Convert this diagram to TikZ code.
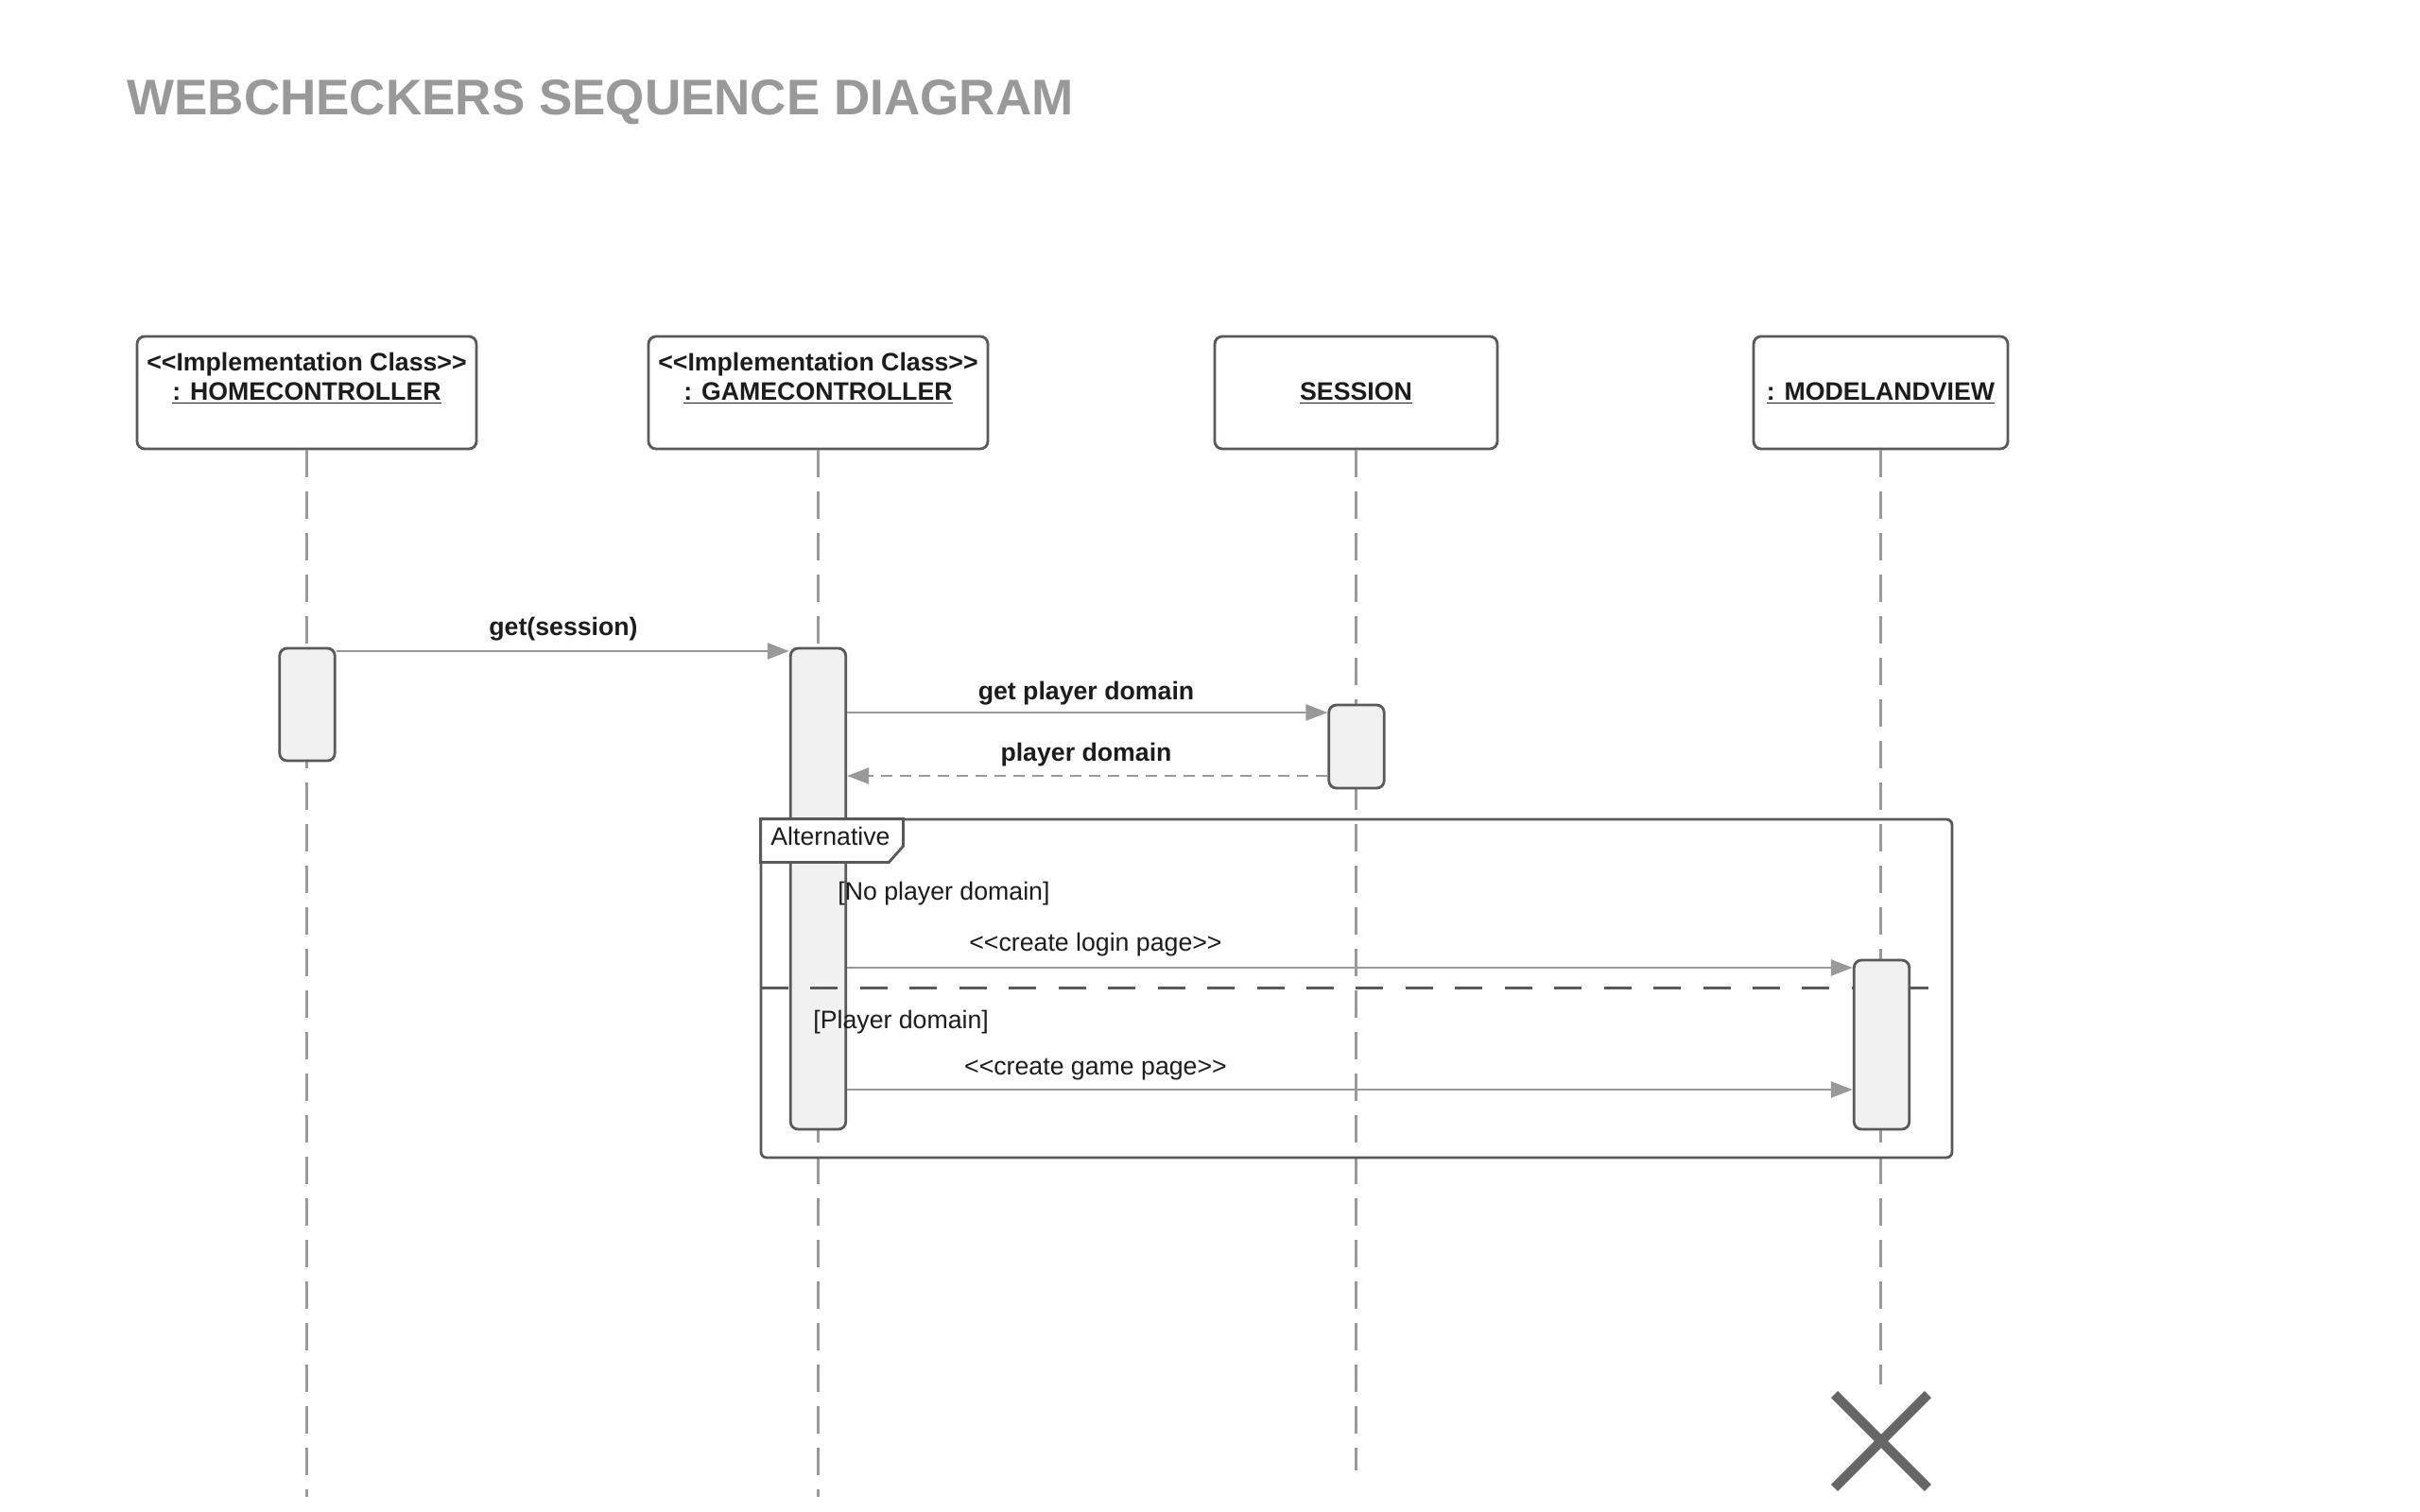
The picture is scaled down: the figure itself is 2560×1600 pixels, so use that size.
\documentclass[tikz,border=0pt]{standalone}
\usepackage{fontspec}
\setmainfont{Liberation Sans}
\usetikzlibrary{arrows.meta}
\definecolor{lifec}{HTML}{9A9A9A}
\definecolor{arrc}{HTML}{999999}
\definecolor{bordc}{HTML}{595959}
\definecolor{actfill}{HTML}{F1F1F1}
\definecolor{textc}{HTML}{1C1C1C}
\definecolor{titlec}{HTML}{999999}
\definecolor{xcol}{HTML}{666666}
\newcommand{\lblfont}{\fontsize{13.35}{16}\selectfont}
\begin{document}
\begin{tikzpicture}[x=0.5pt,y=-0.5pt,
  head/.style={draw=bordc, line width=1.4pt, rounded corners=4pt, fill=white, minimum height=59.5pt, inner sep=0pt},
  act/.style={draw=bordc, line width=1.4pt, rounded corners=4pt, fill=actfill, minimum width=29.25pt, inner sep=0pt},
  life/.style={draw=lifec, line width=1.2pt, dash pattern=on 14.5pt off 7.5pt},
  msg/.style={draw=arrc, line width=1.25pt, -{Triangle[length=11.5pt,width=8.5pt]}},
  ret/.style={msg, dash pattern=on 6pt off 4pt},
  btxt/.style={font=\lblfont\bfseries, text=textc, anchor=base, inner sep=0pt},
  ntxt/.style={font=\lblfont, text=textc, anchor=base, inner sep=0pt},
  fr/.style={draw=bordc, line width=1.4pt},
  sep/.style={draw=bordc, line width=1.5pt, dash pattern=on 14.5pt off 11.725pt},
]
\useasboundingbox[fill=white] (0,0) rectangle (2560,1600);

% title
\node[font=\fontsize{26.5}{30}\selectfont\bfseries, text=titlec, anchor=base west, inner sep=0pt] (title) at (134,122) {WEBCHECKERS SEQUENCE DIAGRAM};

% lifeline heads
\node[head, minimum width=179.5pt] (home) at (324.5,415.5) {};
\node[head, minimum width=179.5pt] (game) at (865.5,415.5) {};
\node[head, minimum width=149.5pt] (sess) at (1434.5,415.5) {};
\node[head, minimum width=134.5pt] (mv) at (1989.5,415.5) {};

\node[btxt] (homeA) at (324.5,392) {{<}{<}Implementation Class{>}{>}};
\node[btxt] (homeB) at (324.5,423) {\underline{: HOMECONTROLLER}};
\node[btxt] (gameA) at (865.5,392) {{<}{<}Implementation Class{>}{>}};
\node[btxt] (gameB) at (865.5,423) {\underline{: GAMECONTROLLER}};
\node[btxt] (sessB) at (1434.5,423) {\underline{SESSION}};
\node[btxt] (mvB) at (1989.5,423) {\underline{: MODELANDVIEW}};

% lifeline ends
\coordinate (endH) at (0,1584);
\coordinate (endS) at (0,1556);
\coordinate (endM) at (0,1465);

\draw[life] (home.south) -- (home.south |- endH);
\draw[life] (game.south) -- (game.south |- endH);
\draw[life] (sess.south) -- (sess.south |- endS);
\draw[life] (mv.south) -- (mv.south |- endM);

% destruction mark
\node[inner sep=0pt, minimum size=49pt] (xmark) at (1990,1525) {};
\draw[xcol, line width=5pt] (xmark.north west) -- (xmark.south east);
\draw[xcol, line width=5pt] (xmark.north east) -- (xmark.south west);

% activations
\node[act, minimum height=59.5pt] (hact) at (325,745.5) {};
\node[act, minimum height=254.5pt] (gact) at (865.5,940.5) {};
\node[act, minimum height=44pt] (sact) at (1435,790) {};

% combined fragment
\draw[fr, rounded corners=3pt] (805,867) rectangle (2065,1225);
\node[inner sep=0pt, minimum width=75pt, minimum height=22.5pt] (tab) at (880,889.5) {};
\draw[fr, fill=white] (tab.south west) -- (tab.north west) -- (tab.north east) -- ([yshift=8.5pt]tab.south east) -- ([xshift=-7.5pt]tab.south east) -- cycle;
\node[ntxt] (alt) at (878.5,894) {Alternative};
\draw[sep] (805,1045) -- (2044,1045);

\node[act, minimum height=89.5pt] (mact) at (1990.5,1105.5) {};

% messages
\coordinate (y1) at (0,689);
\coordinate (y2) at (0,754);
\coordinate (y3) at (0,821);
\coordinate (y4) at (0,1024);
\coordinate (y5) at (0,1153);
\draw[msg] (hact.east |- y1) -- (gact.west |- y1);
\draw[msg] (gact.east |- y2) -- (sact.west |- y2);
\draw[ret] (sact.west |- y3) -- (gact.east |- y3);
\draw[msg] (gact.east |- y4) -- (mact.west |- y4);
\draw[msg] (gact.east |- y5) -- (mact.west |- y5);

\node[btxt] (l1) at (596,672) {get(session)};
\node[btxt] (l2) at (1149,740) {get player domain};
\node[btxt] (l3) at (1149,805) {player domain};
\node[ntxt] (l4) at (1159,1006) {{<}{<}create login page{>}{>}};
\node[ntxt] (l5) at (1159,1137) {{<}{<}create game page{>}{>}};

\node[ntxt, anchor=base west] (g1) at (886,952) {[No player domain]};
\node[ntxt, anchor=base west] (g2) at (860,1088) {[Player domain]};
\end{tikzpicture}
\end{document}
